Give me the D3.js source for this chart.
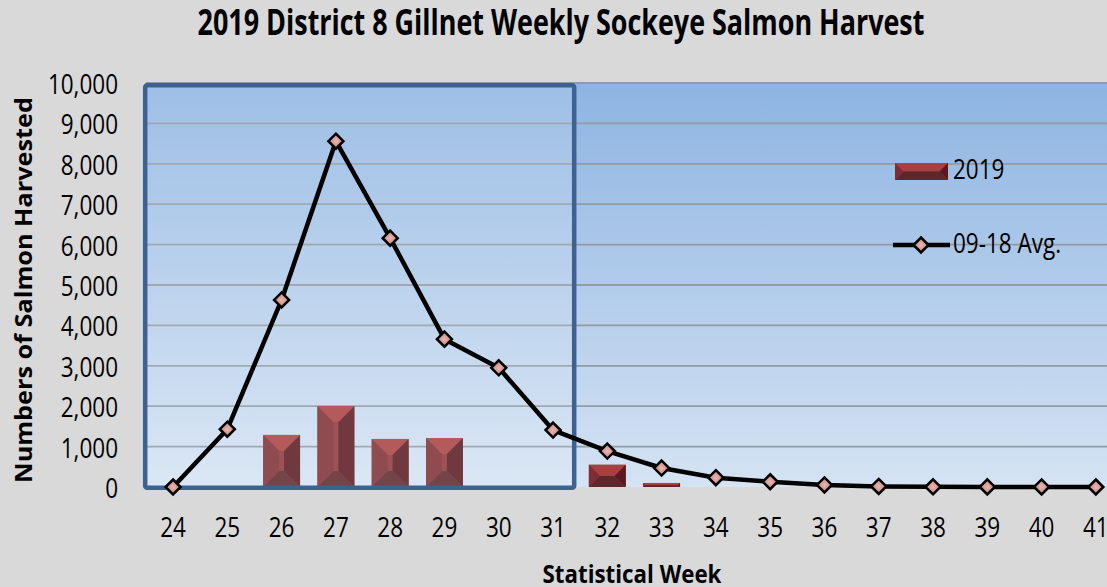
<!DOCTYPE html>
<html><head><meta charset="utf-8">
<script src="https://cdn.jsdelivr.net/npm/d3@7"></script>
<style>body{margin:0;background:#d9d9d9}svg{display:block}</style>
</head><body>
<svg id="c" width="1107" height="587"></svg>
<script>
const weeks = [24,25,26,27,28,29,30,31,32,33,34,35,36,37,38,39,40,41];
const harvest2019 = [0,0,1290,2000,1190,1210,0,0,550,100,0,0,0,0,0,0,0,0];
const avg0918 = [0,1430,4630,8560,6160,3660,2950,1410,890,470,230,130,50,15,5,3,2,0];
const yTicks = [0,1000,2000,3000,4000,5000,6000,7000,8000,9000,10000];
const seriesNames = ["2019","09-18 Avg."];
const titleText = "2019 District 8 Gillnet Weekly Sockeye Salmon Harvest";
const yTitle = "Numbers of Salmon Harvested";
const xTitle = "Statistical Week";

const svg = d3.select("#c");
const FONT = "'Open Sans', 'Noto Sans', sans-serif";
const plotL = 145.9, plotR = 1123, plotT = 83, plotB = 487;

const x = d3.scaleBand().domain(weeks).range([plotL, plotR]).paddingInner(0.32).paddingOuter(0.16);
const xc = d => x(d) + x.bandwidth()/2;
const y = d3.scaleLinear().domain([0,10000]).range([plotB, plotT]);

const defs = svg.append("defs");
const g1 = defs.append("linearGradient").attr("id","plotbg").attr("x1",0).attr("y1",0).attr("x2",0).attr("y2",1);
g1.append("stop").attr("offset","0%").attr("stop-color","#8db4e2");
g1.append("stop").attr("offset","100%").attr("stop-color","#d5e3f3");
const rg = defs.append("radialGradient").attr("id","mk");
rg.append("stop").attr("offset","0%").attr("stop-color","#eab8b3");
rg.append("stop").attr("offset","100%").attr("stop-color","#c27f7c");

svg.append("rect").attr("width",1107).attr("height",587).attr("fill","#d9d9d9");

// plot area
svg.append("rect").attr("x",plotL).attr("y",plotT).attr("width",plotR-plotL).attr("height",plotB-plotT).attr("fill","url(#plotbg)");

// gridlines
svg.append("g").selectAll("line").data(yTicks.filter(v=>v>0)).join("line")
  .attr("x1",plotL).attr("x2",plotR).attr("y1",d=>y(d)).attr("y2",d=>y(d))
  .attr("stroke","#939aa3").attr("stroke-width",1.8);

// bevel bars
const faces = {top:"#a83f41", left:"#7c2e34", right:"#591920", bottom:"#5d272b", mid:"#8e363c"};
function bevel(g, x0, x1, y0, y1){
  const w = x1-x0, h = y1-y0;
  if (h <= 0) return;
  const b = Math.min(16, w/2, h/2);
  const P = pts => pts.map(p=>p.join(",")).join(" ");
  g.append("rect").attr("x",x0).attr("y",y0).attr("width",w).attr("height",h).attr("fill",faces.mid);
  g.append("polygon").attr("points",P([[x0,y0],[x1,y0],[x1-b,y0+b],[x0+b,y0+b]])).attr("fill",faces.top);
  g.append("polygon").attr("points",P([[x1,y0],[x1,y1],[x1-b,y1-b],[x1-b,y0+b]])).attr("fill",faces.right);
  g.append("polygon").attr("points",P([[x1,y1],[x0,y1],[x0+b,y1-b],[x1-b,y1-b]])).attr("fill",faces.bottom);
  g.append("polygon").attr("points",P([[x0,y1],[x0,y0],[x0+b,y0+b],[x0+b,y1-b]])).attr("fill",faces.left);
}
const barG = svg.append("g");
weeks.forEach((wk,i)=>{
  const v = harvest2019[i];
  if (v>0){
    const gg = barG.append("g");
    bevel(gg, x(wk), x(wk)+x.bandwidth(), y(v), y(0));
  }
});

// highlight rectangle (weeks 24-31)
const hx0 = xc(24) - x.step()/2 - 0.7, hx1 = xc(31) + x.step()*0.39;
svg.append("rect").attr("x",hx0).attr("y",plotT+2.2).attr("width",hx1-hx0).attr("height",plotB+0.7-(plotT+2.2))
  .attr("rx",2).attr("fill","#ffffff").attr("fill-opacity",0.14)
  .attr("stroke","#3c6192").attr("stroke-width",4.5);

// average line
const line = d3.line().x((d,i)=>xc(weeks[i])).y(d=>y(d));
svg.append("path").datum(avg0918).attr("d",line).attr("fill","none")
  .attr("stroke","#000").attr("stroke-width",4.5).attr("stroke-linejoin","round");
const diamond = "M0,-7.5L7.5,0L0,7.5L-7.5,0Z";
svg.append("g").selectAll("path").data(avg0918).join("path")
  .attr("d",diamond).attr("transform",(d,i)=>`translate(${xc(weeks[i])},${y(d)})`)
  .attr("fill","url(#mk)").attr("stroke","#000").attr("stroke-width",2.5);

// text helpers
const SY = 1.22;
function label(txt, tx, ty, anchor, size, weight){
  return svg.append("text").text(txt).attr("font-family",FONT).attr("font-size",size)
    .attr("font-weight",weight||400).attr("text-anchor",anchor).attr("fill","#000")
    .attr("transform",`translate(${tx},${ty}) scale(1,${SY})`);
}
function fit(sel, tx, ty, width, capH, rot){
  const fs = parseFloat(sel.attr("font-size"));
  const w = sel.node().getComputedTextLength();
  const sx = width / w, sy = capH / (0.714*fs);
  sel.attr("transform", `translate(${tx},${ty})${rot?" rotate(-90)":""} scale(${sx},${sy})`);
}

// y tick labels
yTicks.forEach(v => label(d3.format(",")(v), 118, y(v)+11, "end", 22.5));
// x tick labels
weeks.forEach(wk => label(String(wk), xc(wk), 537, "middle", 22.5));

// titles
const t = svg.append("text").text(titleText).attr("font-family",FONT).attr("font-size",24)
  .attr("font-weight",700).attr("text-anchor","middle").attr("fill","#000");
fit(t, 561, 35, 727, 25);
const yt = svg.append("text").text(yTitle).attr("font-family",FONT).attr("font-size",22)
  .attr("font-weight",700).attr("text-anchor","middle").attr("fill","#000");
fit(yt, 32, 290, 386, 17, true);
const xt = svg.append("text").text(xTitle).attr("font-family",FONT).attr("font-size",18)
  .attr("font-weight",700).attr("text-anchor","middle").attr("fill","#000");
fit(xt, 632, 583, 179, 18);

// legend
const lg = svg.append("g");
bevel(lg, 895, 948, 163, 180);
label(seriesNames[0], 953, 179, "start", 22.5);
svg.append("line").attr("x1",893).attr("x2",950).attr("y1",245).attr("y2",245).attr("stroke","#000").attr("stroke-width",4.5);
svg.append("path").attr("d",diamond).attr("transform","translate(921,245)").attr("fill","url(#mk)").attr("stroke","#000").attr("stroke-width",2.5);
label(seriesNames[1], 953, 253, "start", 22.5);
</script>
</body></html>
